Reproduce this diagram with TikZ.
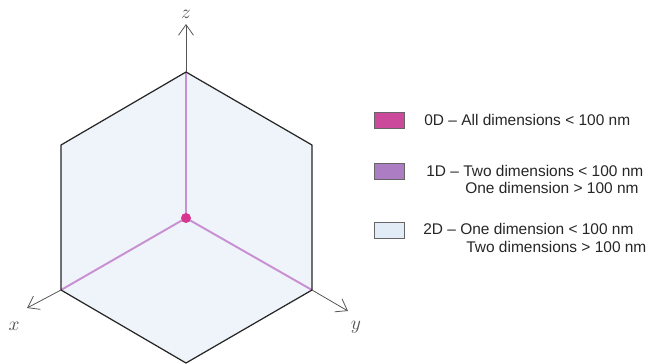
\documentclass[tikz,border=0pt]{standalone}
\usepackage{fontspec}
\newfontfamily\legendfont{Liberation Sans}
\usetikzlibrary{arrows.meta}

\definecolor{faceblue}{HTML}{EEF4FA}
\definecolor{onedviolet}{HTML}{C890D2}
\definecolor{zerodpink}{HTML}{D8358F}
\definecolor{legpink}{HTML}{CC4A9C}
\definecolor{legviolet}{HTML}{AC7DC2}
\definecolor{legblue}{HTML}{E1ECF6}
\definecolor{axisgray}{HTML}{555555}

\begin{document}
\begin{tikzpicture}[x=0.02cm, y=-0.02cm,
    edge/.style={black!85, line width=0.7pt, line join=round},
    bond/.style={onedviolet, line width=1.1pt},
    axis/.style={axisgray, line width=0.45pt, -{Straight Barb[length=6pt, width=8.5pt]}},
    axlabel/.style={axisgray, font=\fontsize{11}{13}\selectfont},
    legbox/.style={draw=gray!80!black, line width=0.5pt, minimum width=0.6cm, minimum height=0.32cm, inner sep=0pt},
    legtext/.style={anchor=west, inner sep=0pt, text=black!85, font=\legendfont\fontsize{8.8}{11}\selectfont}]

    % frame: same size as the 649x363 reference
    \useasboundingbox (0,0) rectangle (649,363);

    % ===== cube seen along its body diagonal =====
    \coordinate (O)   at (186,218);
    \coordinate (top) at (186,72);
    \coordinate (ul)  at (61,145);
    \coordinate (ur)  at (312,145);
    \coordinate (ll)  at (61,290);
    \coordinate (lr)  at (312,290);
    \coordinate (bot) at (186,363);

    % 2D faces
    \fill[faceblue] (top) -- (ur) -- (lr) -- (bot) -- (ll) -- (ul) -- cycle;

    % 1D edges meeting in the corner
    \draw[bond] (O) -- (top);
    \draw[bond] (O) -- (ll);
    \draw[bond] (O) -- (lr);

    % outline
    \draw[edge] (top) -- (ur) -- (lr) -- (bot) -- (ll) -- (ul) -- cycle;

    % 0D corner
    \fill[zerodpink] (O) circle (5);

    % ===== axes =====
    \coordinate (zend) at (186,24);
    \coordinate (xend) at (27,308);
    \coordinate (yend) at (348,311);
    \draw[axis] (top) -- (zend);
    \draw[axis] (ll) -- (xend);
    \draw[axis] (lr) -- (yend);
    \node[axlabel] (zlab) at (186,14)  {$z$};
    \node[axlabel] (xlab) at (14,326)  {$x$};
    \node[axlabel] (ylab) at (356,327) {$y$};

    % ===== legend =====
    \node[legbox, fill=legpink]   (box0) at (389,120) {};
    \node[legbox, fill=legviolet] (box1) at (389,171) {};
    \node[legbox, fill=legblue]   (box2) at (389,230) {};

    \node[legtext] (txt0)  at (424,120) {0D – All dimensions < 100 nm};
    \node[legtext] (txt1a) at (426,171) {1D – Two dimensions < 100 nm};
    \node[legtext] (txt1b) at (465,188) {One dimension > 100 nm};
    \node[legtext] (txt2a) at (423,229) {2D – One dimension < 100 nm};
    \node[legtext] (txt2b) at (466,247) {Two dimensions > 100 nm};

\end{tikzpicture}
\end{document}
